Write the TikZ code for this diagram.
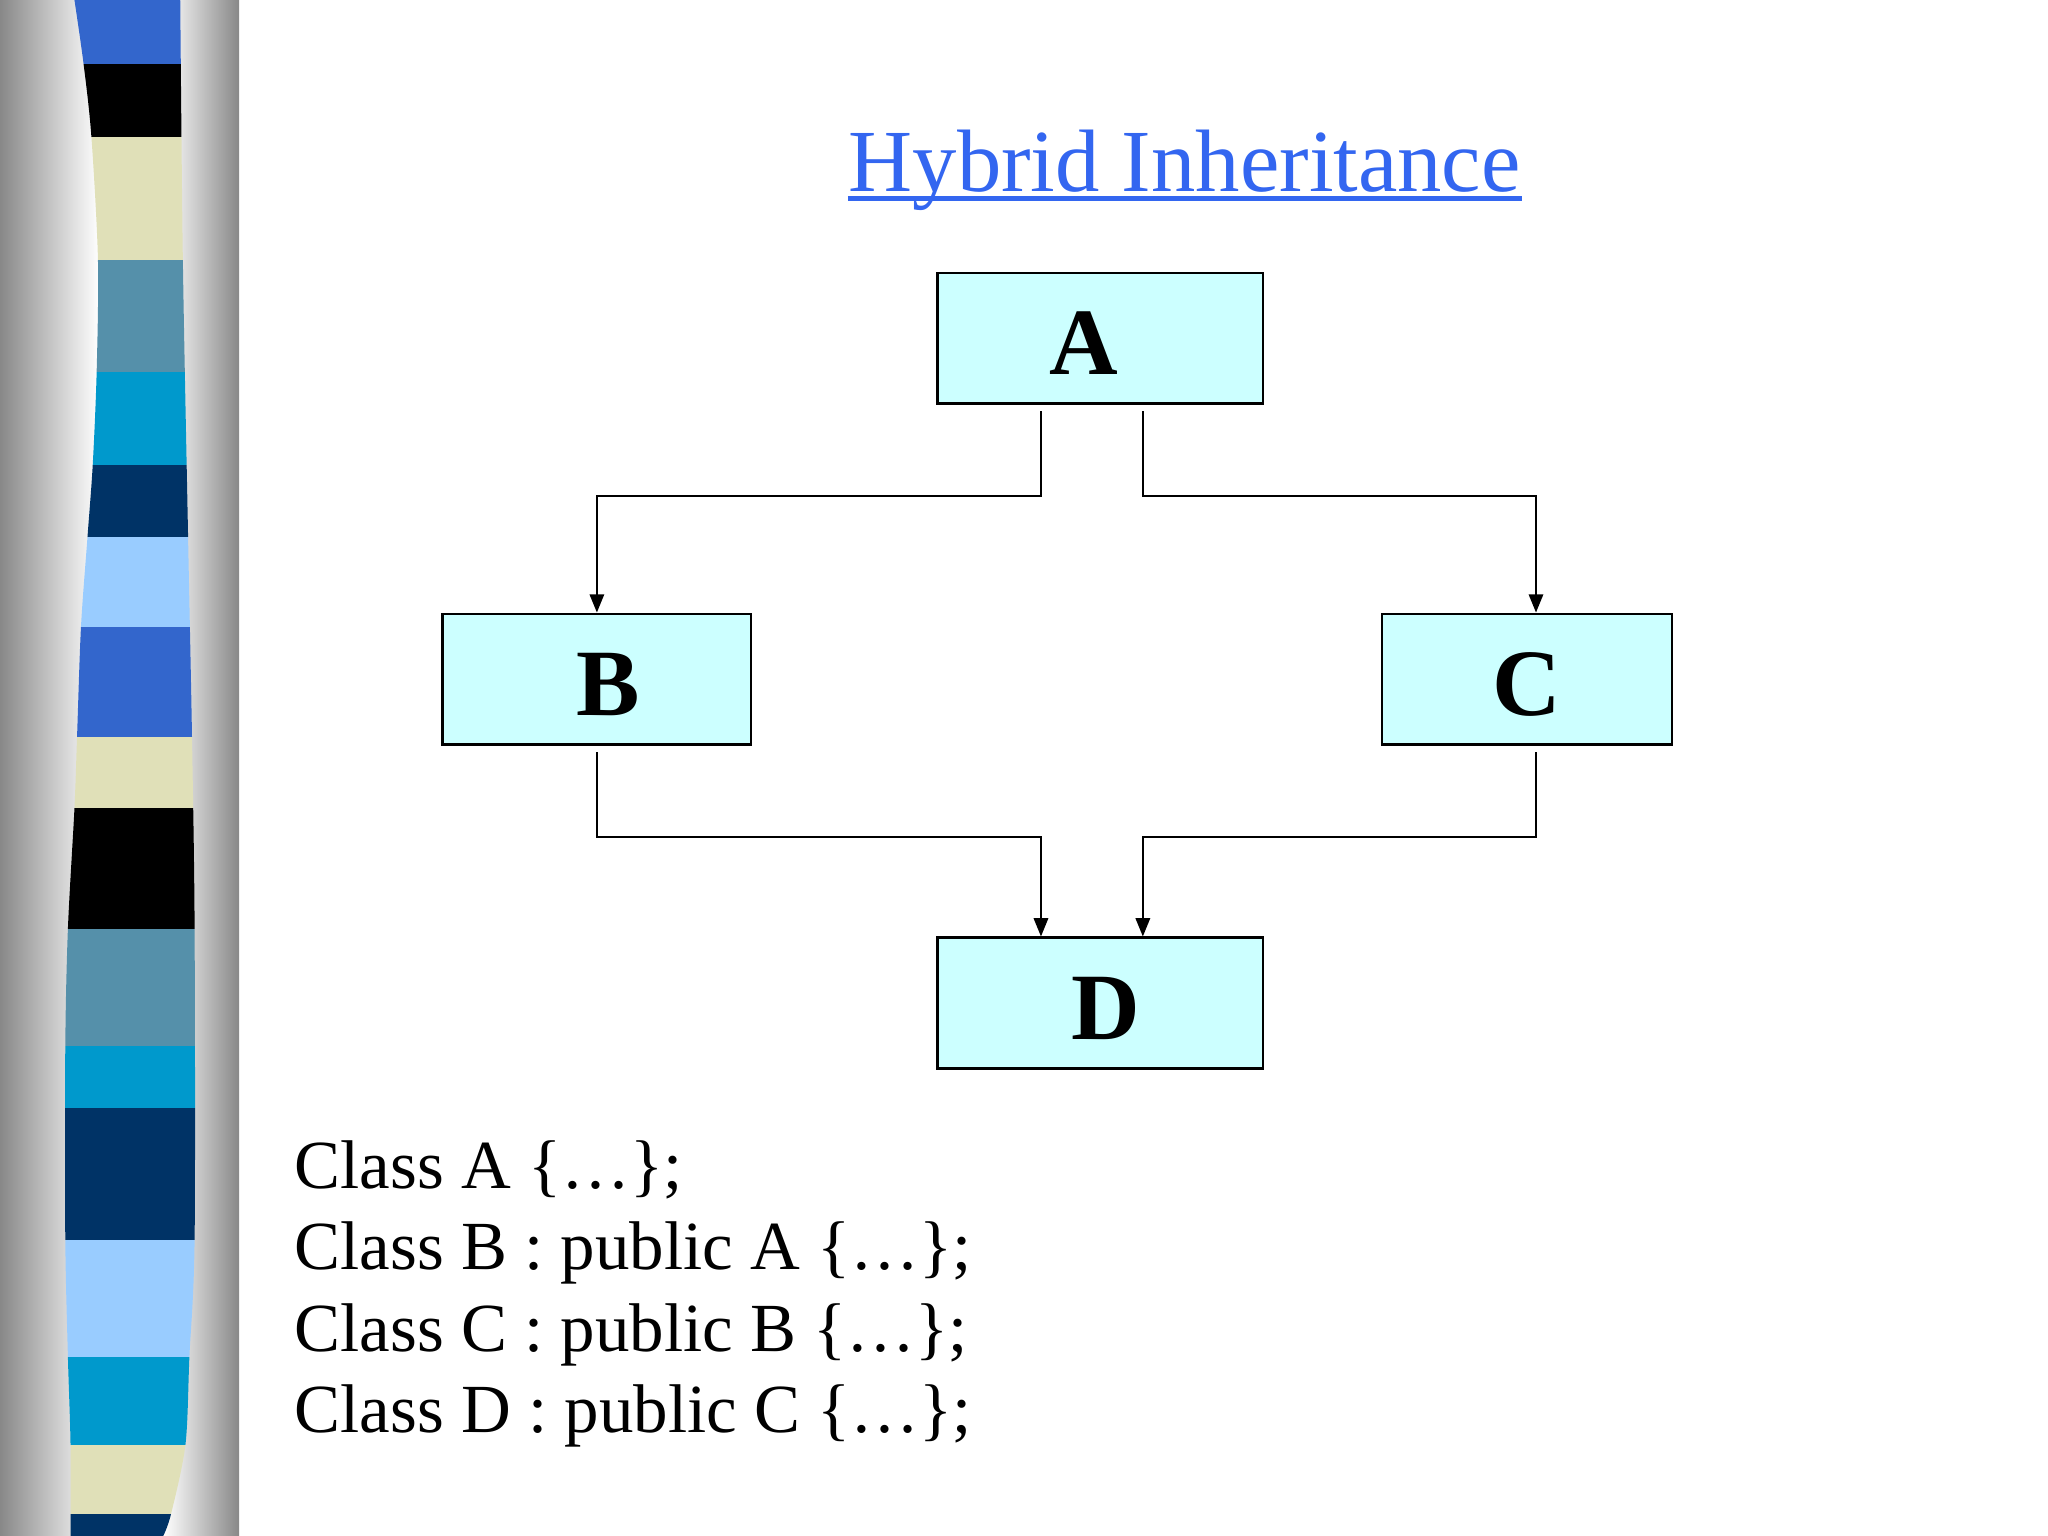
\documentclass[tikz,border=0pt]{standalone}
\usepackage{fontspec}
\setmainfont{Liberation Serif}
\usetikzlibrary{arrows.meta}
\definecolor{stripeBlue}{HTML}{3366CC}
\definecolor{stripeBeige}{HTML}{E0E0B8}
\definecolor{stripeSteel}{HTML}{5590AA}
\definecolor{stripeCyan}{HTML}{0099CC}
\definecolor{stripeNavy}{HTML}{003366}
\definecolor{stripeSky}{HTML}{99CCFF}
\definecolor{panelGray}{HTML}{888888}
\definecolor{boxFill}{HTML}{CCFFFF}
\definecolor{titleBlue}{HTML}{3366F0}
\begin{document}
\begin{tikzpicture}[x=0.01cm,y=-0.01cm]
        \tikzstyle{classbox}=[rectangle,draw=black,line width=0.55pt,fill=boxFill,minimum width=2.49cm,minimum height=1.0cm,inner sep=0pt,text height=0.56cm,text depth=0cm,font=\fontsize{20.7}{24}\selectfont\bfseries]
        \tikzstyle{link}=[draw=black,line width=0.45pt,shorten <=0.05cm,-{Triangle[length=0.14cm,width=0.11cm]}]
        \tikzstyle{codeline}=[anchor=base west,inner sep=0pt,font=\fontsize{15}{18}\selectfont]
        \useasboundingbox (0,0) rectangle (1568,1176);
       \begin{scope}
         % side panel
         \shade[left color=panelGray,right color=white] (0,0) rectangle (76,1176);
         \shade[left color=white,right color=panelGray] (125,0) rectangle (183,1176);
         \clip plot[smooth] coordinates {(57,0) (64,49) (70,105) (75,199) (74,285) (71,356) (67,411) (62,480) (59,564) (57,619) (52,711) (50,801) (50,949) (52,1039) (54,1106) (54,1176)}
           -- plot[smooth] coordinates {(125,1176) (131,1159) (142,1106) (145,1039) (149,949) (149,711) (147,564) (144,411) (140,199) (138,0)} -- cycle;
         \foreach \ytop/\ybot/\col in {0/49/stripeBlue,49/105/black,105/199/stripeBeige,199/285/stripeSteel,285/356/stripeCyan,356/411/stripeNavy,411/480/stripeSky,480/564/stripeBlue,564/619/stripeBeige,619/711/black,711/801/stripeSteel,801/848/stripeCyan,848/949/stripeNavy,949/1039/stripeSky,1039/1106/stripeCyan,1106/1159/stripeBeige,1159/1176/stripeNavy}
           \fill[\col] (40,\ytop) rectangle (160,\ybot);
       \end{scope}

         \node [anchor=base,inner sep=0pt,text=titleBlue,font=\fontsize{19.3}{23}\selectfont] (title) at (907,147) {Hybrid Inheritance};
         \draw [titleBlue,line width=0.035cm] ([shift={(0,5)}]title.base west) -- ([shift={(0,5)}]title.base east);

         \node [classbox] (a) at (842.5,259) {\hspace*{-0.26cm}A};
         \node [classbox,minimum width=2.36cm] (b) at (457,520) {\hspace*{0.18cm}B};
         \node [classbox,minimum width=2.22cm] (c) at (1169,520) {C};
         \node [classbox] (d) at (842.5,768) {\hspace*{0.08cm}D};

 		\path[link] ([shift={(-45.5,0)}]a.south) -- ++(0,70) -| (b.north);
 		\path[link] ([shift={(32.5,0)}]a.south) -- ++(0,70) -| ([shift={(7,0)}]c.north);
 		\path[link] (b.south) -- ++(0,70) -| ([shift={(-45.5,0)}]d.north);
 		\path[link] ([shift={(7,0)}]c.south) -- ++(0,70) -| ([shift={(32.5,0)}]d.north);

         \node [codeline] (cls1) at (225,910) {Class A \{…\};};
         \node [codeline] (cls2) at (225,972) {Class B : public A \{…\};};
         \node [codeline] (cls3) at (225,1035) {Class C : public B \{…\};};
         \node [codeline] (cls4) at (225,1097) {Class D : public C \{…\};};
      \end{tikzpicture}
\end{document}
